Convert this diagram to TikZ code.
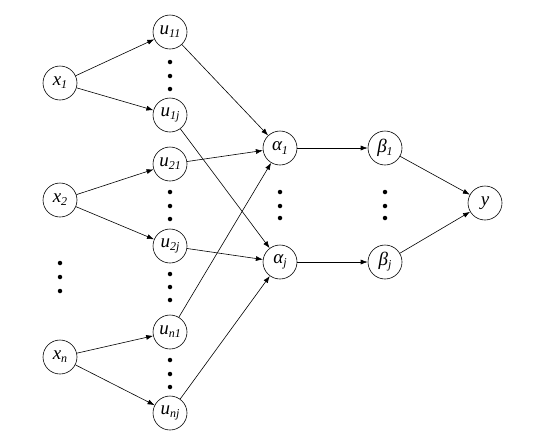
\documentclass[tikz,border=0pt]{standalone}
\usepackage{fontspec}
\setmainfont{Liberation Serif}
\usetikzlibrary{arrows.meta}
\newcommand{\lsub}[1]{\raisebox{-0.35ex}{\fontsize{12}{12}\selectfont\itshape #1}}
\begin{document}
\begin{tikzpicture}[x=1pt,y=-1pt,
  nd/.style={circle,draw,line width=0.6pt,minimum size=34pt,inner sep=0pt,font=\fontsize{19}{21}\selectfont\itshape},
  arr/.style={-{Latex[length=7pt,width=5pt]},line width=0.6pt},
  dot/.style={circle,fill,inner sep=0pt,minimum size=4.5pt}]
\useasboundingbox (0,0) rectangle (553,437);
\node[nd] (x1) at (60,83) {x\lsub{1}};
\node[nd] (x2) at (60,200) {x\lsub{2}};
\node[nd] (xn) at (60,357) {x\lsub{n}};
\node[nd] (u11) at (170,32) {u\lsub{11}};
\node[nd] (u1j) at (170,115) {u\lsub{1j}};
\node[nd] (u21) at (170,164) {u\lsub{21}};
\node[nd] (u2j) at (170,246) {u\lsub{2j}};
\node[nd] (un1) at (170,332) {u\lsub{n1}};
\node[nd] (unj) at (170,413) {u\lsub{nj}};
\node[nd] (a1) at (280,148) {α\lsub{1}};
\node[nd] (aj) at (280,262) {α\lsub{j}};
\node[nd] (b1) at (385,148) {β\lsub{1}};
\node[nd] (bj) at (385,262) {β\lsub{j}};
\node[nd] (y) at (485,203) {y};
% dots
\foreach \yy in {263,277,291} \node[dot] at (60,\yy) {};
\foreach \yy in {62,76,89} \node[dot] at (170,\yy) {};
\foreach \yy in {192,206,219} \node[dot] at (170,\yy) {};
\foreach \yy in {274,287,300} \node[dot] at (170,\yy) {};
\foreach \yy in {360,374,387} \node[dot] at (170,\yy) {};
\foreach \yy in {192,206,218} \node[dot] at (280,\yy) {};
\foreach \yy in {192,206,218} \node[dot] at (385,\yy) {};
% edges
\draw[arr] (x1) -- (u11);
\draw[arr] (x1) -- (u1j);
\draw[arr] (x2) -- (u21);
\draw[arr] (x2) -- (u2j);
\draw[arr] (xn) -- (un1);
\draw[arr] (xn) -- (unj);
\draw[arr] (u11) -- (a1);
\draw[arr] (u21) -- (a1);
\draw[arr] (un1) -- (a1);
\draw[arr] (u1j) -- (aj);
\draw[arr] (u2j) -- (aj);
\draw[arr] (unj) -- (aj);
\draw[arr] (a1) -- (b1);
\draw[arr] (aj) -- (bj);
\draw[arr] (b1) -- (y);
\draw[arr] (bj) -- (y);
\end{tikzpicture}
\end{document}
